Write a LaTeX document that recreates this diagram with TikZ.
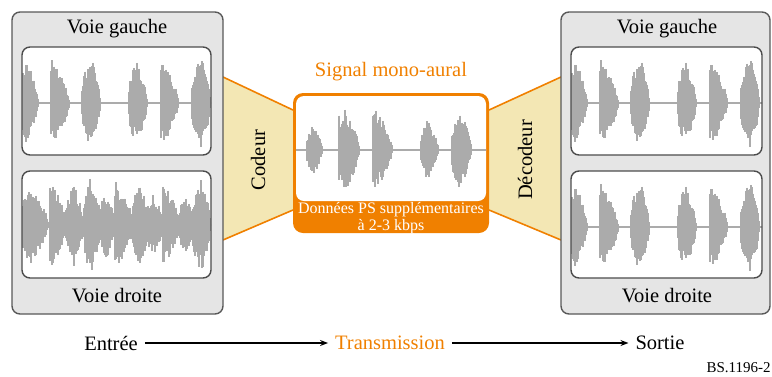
\documentclass[tikz,border=0pt]{standalone}
\usepackage{fontspec}
\setmainfont{Liberation Serif}
\usetikzlibrary{arrows.meta,positioning}
\definecolor{ituorange}{RGB}{240,128,0}
\definecolor{codeyellow}{RGB}{243,231,180}

% one burst of a waveform: start, width, amplitude, peak position
\newcommand\burst[4]{%
  \foreach \i in {0,...,#2}{%
    \pgfmathsetmacro\t{(\i+0.5)/(#2+1)}%
    \pgfmathsetmacro\env{\t<#4 ? (\t/#4)^0.35 : ((1-\t)/(1-#4))^0.6}%
    \pgfmathsetmacro\up{#3*\env*(0.6+0.4*rnd)}%
    \pgfmathsetmacro\dn{#3*\env*(0.6+0.4*rnd)}%
    \draw[wave] (#1+\i,-\up) -- (#1+\i,\dn);
  }}
% whole waveform: xshift, baseline, bursts
\newcommand\drawwave[3]{%
  \begin{scope}[shift={(#1,#2)}]
    \draw[wave,line width=0.6pt] (0,0) -- (200,0);
    \foreach \s/\w/\a/\p in {#3} {\burst{\s}{\w}{\a}{\p}}
  \end{scope}}

\begin{document}
\begin{tikzpicture}[x=0.5pt,y=-0.5pt,
  panel/.style={draw=black!65,fill=black!10,line width=0.7pt,rounded corners=4pt},
  wavebox/.style={draw=black!70,line width=0.7pt,rounded corners=4pt},
  wave/.style={draw=black!33,line width=0.55pt},
  coder/.style={fill=codeyellow},
  orangeline/.style={draw=ituorange,line width=0.8pt},
  lbl/.style={font=\fontsize{10.25}{12}\selectfont},
  small/.style={font=\fontsize{8}{7}\selectfont}]
\useasboundingbox (0,0) rectangle (772,376);

% coder / decoder
\path[coder] (223,77) -- (293,110) -- (293,210) -- (223,240) -- cycle;
\path[coder] (561,77) -- (489,110) -- (489,210) -- (561,240) -- cycle;
\draw[orangeline] (223,77) -- (293,110) (223,240) -- (293,210);
\draw[orangeline] (561,77) -- (489,110) (561,240) -- (489,210);
\node[lbl,rotate=90] (codeur) at (258,160) {Codeur};
\node[lbl,rotate=90] (decodeur) at (525,160) {Décodeur};

% input panel
\draw[panel] (12,12) rectangle (223,314);
\node[lbl] (ingauche) at (117,29) {Voie gauche};
\node[lbl] (indroite) at (117,296) {Voie droite};
\fill[white,rounded corners=4pt] (22,47) rectangle (211,155);
\fill[white,rounded corners=4pt] (22,171) rectangle (211,278);
\begin{scope}
  \clip[rounded corners=4pt] (22,47) rectangle (211,155);
  \pgfmathsetseed{11}
  \drawwave{22}{103}{-4/20/42/0.45, 29/1/48/0.5, 29/18/46/0.04, 60/18/47/0.5,
    107/18/42/0.45, 139/1/48/0.5, 139/17/45/0.04, 170/18/47/0.55}
\end{scope}
\begin{scope}
  \clip[rounded corners=4pt] (22,171) rectangle (211,278);
  \pgfmathsetseed{23}
  \drawwave{22}{225}{-2/28/38/0.4, 28/1/50/0.5, 28/16/46/0.04, 44/17/42/0.5,
    62/17/50/0.4, 78/16/34/0.4, 93/1/50/0.5, 93/18/46/0.04, 110/16/44/0.5,
    125/16/32/0.4, 141/1/50/0.5, 141/16/44/0.04, 157/14/32/0.5, 170/18/47/0.55}
\end{scope}
\draw[wavebox] (22,47) rectangle (211,155);
\draw[wavebox] (22,171) rectangle (211,278);

% transmitted signal
\node[lbl,text=ituorange] (mono) at (391,72) {Signal mono-aural};
\fill[ituorange,rounded corners=5pt] (293,93) rectangle (489,233);
\fill[white,rounded corners=4pt] (296,96) rectangle (486,201);
\begin{scope}
  \clip (296,96) rectangle (486,201);
  \pgfmathsetseed{5}
  \drawwave{293}{150}{14/15/27/0.4, 46/1/44/0.5, 46/20/42/0.3, 80/1/46/0.5,
    80/19/44/0.04, 128/17/30/0.4, 159/19/42/0.45}
\end{scope}
\node[small,text=white,align=center] (psdata) at (391,218)
  {Données PS supplémentaires\\à 2-3 kbps};

% output panel
\draw[panel] (561,12) rectangle (770,314);
\node[lbl] (outgauche) at (667,29) {Voie gauche};
\node[lbl] (outdroite) at (667,296) {Voie droite};
\fill[white,rounded corners=4pt] (571,47) rectangle (762,155);
\fill[white,rounded corners=4pt] (571,171) rectangle (762,278);
\begin{scope}
  \clip[rounded corners=4pt] (571,47) rectangle (762,155);
  \pgfmathsetseed{11}
  \drawwave{571}{103}{-4/20/42/0.45, 29/1/48/0.5, 29/18/46/0.04, 60/18/47/0.5,
    107/18/42/0.45, 139/1/48/0.5, 139/17/45/0.04, 170/18/47/0.55}
\end{scope}
\begin{scope}
  \clip[rounded corners=4pt] (571,171) rectangle (762,278);
  \pgfmathsetseed{11}
  \drawwave{571}{227}{-4/20/42/0.45, 29/1/48/0.5, 29/18/46/0.04, 60/18/47/0.5,
    107/18/42/0.45, 139/1/48/0.5, 139/17/45/0.04, 170/18/47/0.55}
\end{scope}
\draw[wavebox] (571,47) rectangle (762,155);
\draw[wavebox] (571,171) rectangle (762,278);

% bottom line
\node[lbl] (entree) at (111,343) {Entrée};
\node[lbl,text=ituorange] (trans) [right=139.5pt of entree.center,anchor=center] {Transmission};
\node[lbl] (sortie) [right=135pt of trans.center,anchor=center] {Sortie};
\path[-{Stealth[length=4pt,width=3pt]},line width=0.6pt]
  (entree) edge (trans)
  (trans) edge (sortie);
\node[font=\fontsize{7.5}{9}\selectfont,anchor=east,inner sep=0pt] (ref) at (771,368) {BS.1196-2};
\end{tikzpicture}
\end{document}
